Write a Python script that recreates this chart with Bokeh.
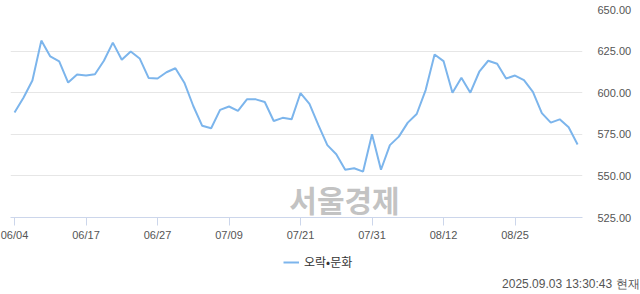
from bokeh.plotting import figure
from bokeh.models import Range1d, FixedTicker, NumeralTickFormatter, Legend, LegendItem, Label, Title
from bokeh.layouts import column
from bokeh.embed import file_html
from bokeh.resources import INLINE

dates = ["06/04", "06/05", "06/09", "06/10", "06/11", "06/12", "06/13", "06/16",
         "06/17", "06/18", "06/19", "06/20", "06/23", "06/24", "06/25", "06/26",
         "06/27", "06/30", "07/01", "07/02", "07/03", "07/04", "07/07", "07/08",
         "07/09", "07/10", "07/11", "07/14", "07/15", "07/16", "07/17", "07/18",
         "07/21", "07/22", "07/23", "07/24", "07/25", "07/28", "07/29", "07/30",
         "07/31", "08/01", "08/04", "08/05", "08/06", "08/07", "08/08", "08/11",
         "08/12", "08/13", "08/14", "08/18", "08/19", "08/20", "08/21", "08/22",
         "08/25", "08/26", "08/27", "08/28", "08/29", "09/01", "09/02", "09/03"]

values = [588.1, 597.0, 607.3, 631.3, 621.8, 618.8, 606.1, 610.9,
          610.3, 611.1, 619.2, 630.1, 619.8, 624.8, 620.6, 608.9,
          608.5, 612.3, 614.7, 606.0, 592.0, 580.1, 578.6, 589.7,
          591.7, 589.1, 596.0, 596.0, 594.4, 583.0, 584.9, 584.0,
          599.8, 593.3, 580.5, 568.5, 563.0, 553.7, 554.6, 552.6,
          575.0, 553.7, 568.5, 573.6, 582.0, 587.2, 601.6, 623.0,
          619.0, 600.0, 609.0, 600.0, 612.6, 619.2, 617.4, 608.5,
          610.3, 607.5, 600.5, 587.7, 582.0, 584.0, 579.2, 568.9]

y_ticks = [525, 550, 575, 600, 625, 650]
x_tick_idx = list(range(0, len(dates), 8))
series_name = "오락•문화"
stamp = "2025.09.03 13:30:43 현재"
watermark = "서울경제"

LINE_COLOR = "#7cb5ec"
xs = list(range(len(values)))

# ---- main chart ----
p = figure(width=640, height=243, output_backend="svg", toolbar_location=None,
           x_range=Range1d(-0.45, len(values) - 0.45), y_range=Range1d(525, 650),
           y_axis_location="right", min_border_left=10, min_border_right=58,
           min_border_top=9, min_border_bottom=26)
p.outline_line_color = None
p.background_fill_color = "white"
p.border_fill_color = "white"

line = p.line(xs, values, line_color=LINE_COLOR, line_width=2)

p.xgrid.grid_line_color = None
p.ygrid.grid_line_color = "#e6e6e6"
p.ygrid.ticker = FixedTicker(ticks=y_ticks)

ya = p.yaxis[0]
ya.ticker = FixedTicker(ticks=y_ticks)
ya.formatter = NumeralTickFormatter(format="0.00")
ya.axis_line_color = None
ya.major_tick_line_color = None
ya.minor_tick_line_color = None
ya.major_label_standoff = 9
ya.major_label_text_font = "Liberation Sans"
ya.major_label_text_font_size = "11px"
ya.major_label_text_color = "#555555"

xa = p.xaxis[0]
xa.ticker = FixedTicker(ticks=x_tick_idx)
xa.major_label_overrides = {i: dates[i] for i in x_tick_idx}
xa.axis_line_color = "#ccd6eb"
xa.major_tick_line_color = "#ccd6eb"
xa.minor_tick_line_color = None
xa.major_tick_out = 8
xa.major_tick_in = 0
xa.major_label_standoff = 3
xa.major_label_text_font = "Liberation Sans"
xa.major_label_text_font_size = "11px"
xa.major_label_text_color = "#555555"

wm = Label(x=334, y=19, x_units="screen", y_units="screen", text=watermark,
           text_align="center", text_baseline="middle",
           text_font="Noto Sans CJK KR", text_font_style="bold",
           text_font_size="30px", text_color="#b8b8b8", text_alpha=0.85)
p.add_layout(wm)

# ---- footer: legend + timestamp ----
f = figure(width=640, height=51, output_backend="svg", toolbar_location=None,
           x_range=Range1d(0, 1), y_range=Range1d(0, 1),
           min_border_left=10, min_border_right=58,
           min_border_top=0, min_border_bottom=0)
f.axis.visible = False
f.grid.grid_line_color = None
f.outline_line_color = None
f.background_fill_color = "white"
f.border_fill_color = "white"

# one-point line: draws nothing itself, only provides the legend swatch
legend_line = f.line(x=xs[:1], y=values[:1], line_color=LINE_COLOR, line_width=2)
legend = Legend(items=[LegendItem(label=series_name, renderers=[legend_line])],
                location=(273, 2), orientation="horizontal",
                margin=0, padding=0, glyph_width=16, glyph_height=16,
                label_height=16, label_standoff=5,
                label_text_font="Noto Sans CJK KR",
                label_text_font_size="12px", label_text_color="#333333",
                border_line_color=None, background_fill_alpha=0)
f.add_layout(legend)

ts = Title(text=stamp, align="right", offset=-57, standoff=6,
           vertical_align="middle",
           text_font="Liberation Sans", text_font_style="normal",
           text_font_size="12px", text_color="#555555")
f.add_layout(ts, "below")

layout = column(p, f, spacing=0)
open("out.html", "w").write(file_html(layout, INLINE))
